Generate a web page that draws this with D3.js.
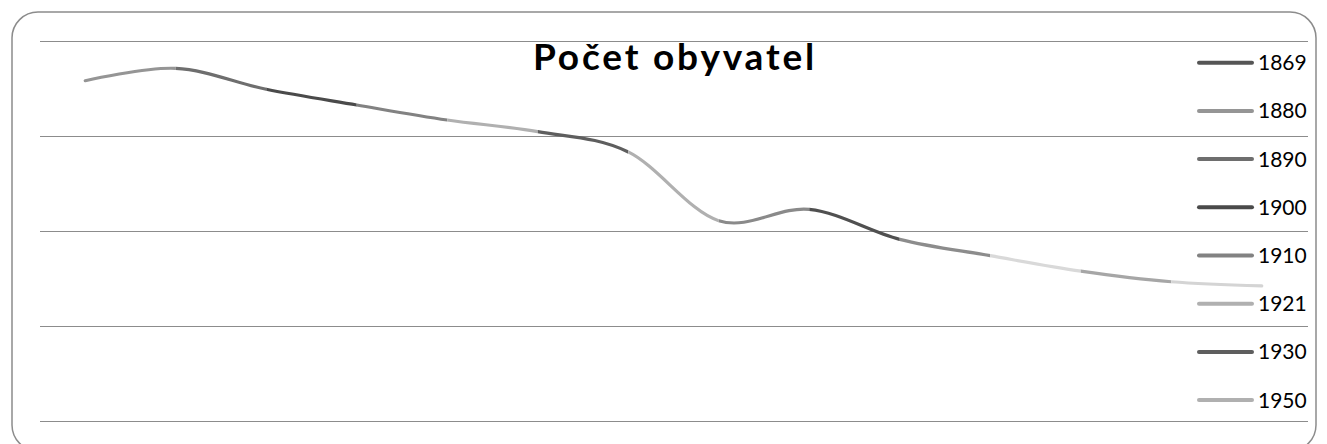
<!DOCTYPE html>
<html>
<head>
<meta charset="utf-8">
<script src="https://cdn.jsdelivr.net/npm/d3@7"></script>
<style>
  body { margin: 0; background: #fff; }
  svg { display: block; font-family: Lato, "Open Sans", sans-serif; }
</style>
</head>
<body>
<div class="vis-holder"></div>
<script>
// census years (categories)
var years = ["1869", "1880", "1890", "1900", "1910", "1921", "1930",
             "1950", "1961", "1970", "1980", "1991", "2001", "2011"];
// population (no axis labels in the original)
var population = [1791, 1856, 1746, 1663, 1584, 1523, 1416,
                  1054, 1114, 956, 870, 789, 733, 711];
// gridline values
var gridTicks = [0, 500, 1000, 1500, 2000];
// only these appear in the legend (it is cut off)
var legendYears = ["1869", "1880", "1890", "1900", "1910", "1921", "1930", "1950"];
// gray shade per point (vary colours by point)
var palette = ["#555555", "#959595", "#6e6e6e", "#4a4a4a", "#828282", "#b0b0b0", "#5e5e5e",
               "#b0b0b0", "#8a8a8a", "#505050", "#8c8c8c", "#d9d9d9", "#a6a6a6", "#d4d4d4"];

var data = years.map(function(y, i) { return { year: y, value: population[i] }; });

var width = 1327;
var height = 444;
var margin = { top: 41, bottom: 23, left: 40, right: 20 };

var svg = d3.select(".vis-holder")
      .append("svg")
      .attr("width", width)
      .attr("height", height);

// rounded chart border
svg.append("rect")
    .attr("x", 12)
    .attr("y", 12)
    .attr("width", 1304)
    .attr("height", 439)
    .attr("rx", 26)
    .attr("fill", "none")
    .attr("stroke", "#8c8c8c")
    .attr("stroke-width", 1.5);

var xScale = d3.scaleBand()
      .domain(years)
      .range([margin.left, 1307]);

var yScale = d3.scaleLinear()
      .domain([0, 2000])
      .range([height - margin.bottom, margin.top]);

var color = d3.scaleOrdinal()
      .domain(years)
      .range(palette);

// horizontal gridlines, no labels
var yAxis = d3.axisLeft(yScale)
      .tickValues(gridTicks)
      .tickSize(-(1308 - margin.left))
      .tickFormat("");
var grid = svg.append("g")
      .attr("class", "grid")
      .attr("transform", "translate(" + margin.left + ",0)")
      .call(yAxis);
grid.select(".domain").remove();
grid.selectAll("line")
    .attr("stroke", "#8c8c8c")
    .attr("stroke-width", 1);

function cx(d) { return xScale(d.year) + xScale.bandwidth() / 2; }

var line = d3.line()
      .x(cx)
      .y(function(d) { return yScale(d.value); })
      .curve(d3.curveCardinal.tension(0));

// one clip per segment, so every segment can take the colour of its end point
var defs = svg.append("defs");
data.forEach(function(d, i) {
  if (i === 0) return;
  var x0 = cx(data[i - 1]);
  var x1 = cx(d);
  defs.append("clipPath")
      .attr("id", "seg" + i)
    .append("rect")
      .attr("x", i === 1 ? x0 - 5 : x0)
      .attr("y", 0)
      .attr("width", (x1 - x0) + (i === 1 || i === data.length - 1 ? 5 : 0))
      .attr("height", height);
});

data.forEach(function(d, i) {
  if (i === 0) return;
  svg.append("path")
      .attr("d", line(data))
      .attr("clip-path", "url(#seg" + i + ")")
      .attr("fill", "none")
      .attr("stroke", color(d.year))
      .attr("stroke-width", 3.2)
      .attr("stroke-linecap", "round");
});

// legend
var legend = svg.append("g").attr("class", "legend");
var item = legend.selectAll("g")
    .data(legendYears)
    .enter().append("g")
    .attr("transform", function(d, i) { return "translate(1199," + (62.7 + i * 48.2) + ")"; });

item.append("line")
    .attr("x1", 0)
    .attr("x2", 53)
    .attr("y1", 0)
    .attr("y2", 0)
    .attr("stroke", function(d) { return color(d); })
    .attr("stroke-width", 4)
    .attr("stroke-linecap", "round");

item.append("text")
    .attr("x", 59)
    .attr("dy", "0.36em")
    .style("font-size", "21px")
    .style("fill", "#000")
    .text(function(d) { return d; });

// title, widened a little to the original's width
var title = svg.append("text")
    .attr("x", 675)
    .attr("y", 70)
    .style("text-anchor", "middle")
    .style("font-weight", "bold")
    .style("font-size", "37px")
    .style("fill", "#000")
    .text("Počet obyvatel");
var tw = title.node().getComputedTextLength();
title.style("letter-spacing", Math.max(0, (284 - tw) / 14) + "px");
</script>
</body>
</html>
